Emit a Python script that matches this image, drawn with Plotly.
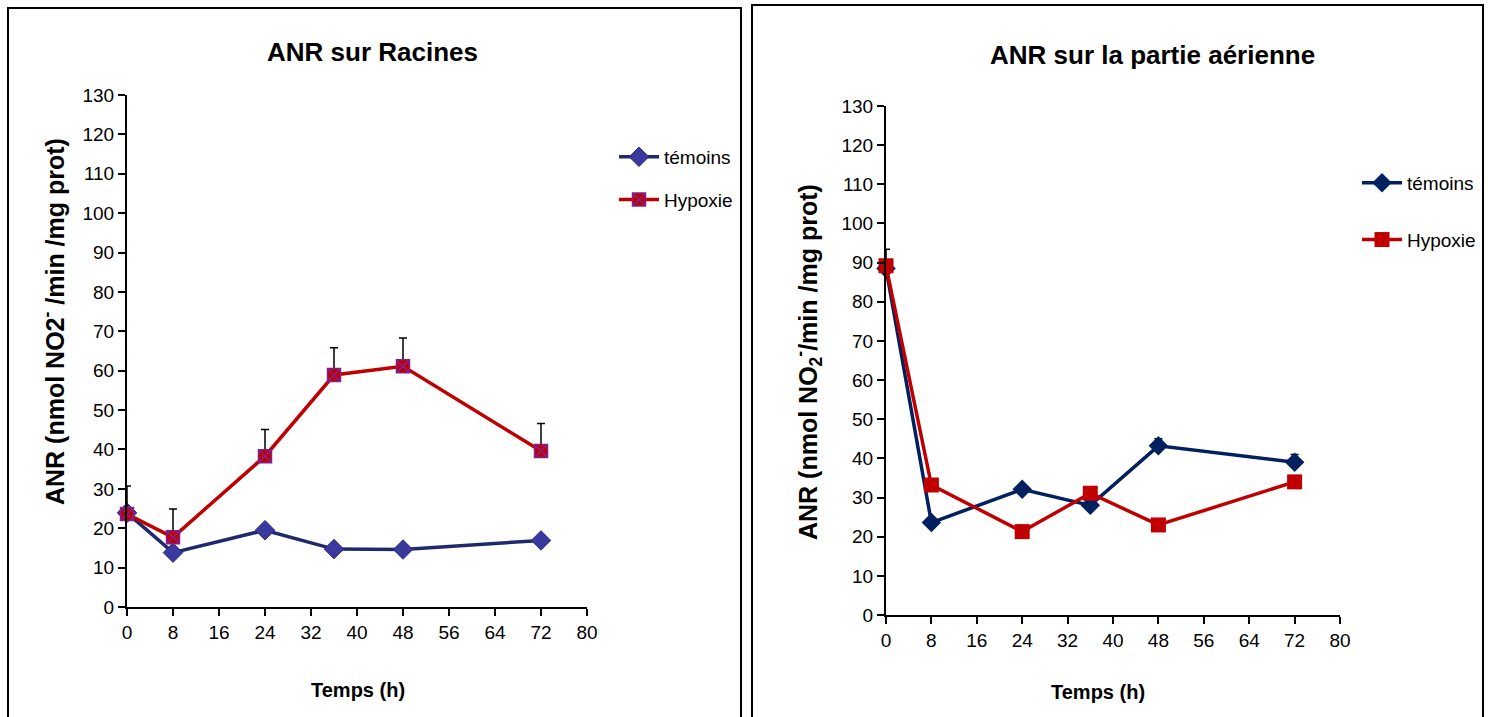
import plotly.graph_objects as go

# ---- data ----
time_h = [0, 8, 24, 36, 48, 72]

rac_temoins = [23.9, 13.8, 19.5, 14.7, 14.6, 16.9]
rac_temoins_err = [0.0, 0.0, 0.8, 0.0, 0.5, 0.5]
rac_hypoxie = [23.6, 17.7, 38.3, 58.9, 61.1, 39.6]
rac_hypoxie_err = [7.1, 7.2, 6.8, 6.9, 7.2, 7.0]

aer_temoins = [88.5, 23.6, 32.1, 28.0, 43.2, 39.0]
aer_temoins_err = [4.9, 0.5, 0.8, 0.5, 1.8, 2.0]
aer_hypoxie = [89.2, 33.2, 21.3, 31.1, 23.0, 34.0]
aer_hypoxie_err = [0.5, 0.5, 0.5, 0.5, 0.5, 0.5]

x_ticks = [0, 8, 16, 24, 32, 40, 48, 56, 64, 72, 80]
y_ticks = [0, 10, 20, 30, 40, 50, 60, 70, 80, 90, 100, 110, 120, 130]

series_names = ["témoins", "Hypoxie"]
titles = ["ANR sur Racines", "ANR sur la partie aérienne"]
y_titles = ["ANR (nmol NO2<sup>-</sup> /min /mg prot)",
            "ANR (nmol NO<sub>2</sub><sup>-</sup>/min /mg prot)"]
x_title = "Temps (h)"

W, H = 1488, 717
NARROW = "Liberation Sans Narrow, Arial Narrow, Liberation Sans, Arial, sans-serif"
SANS = "Liberation Sans, Arial, sans-serif"

def px_x(p):
    return p / W

def px_y(p):
    return 1 - p / H

fig = go.Figure()

def err(arr):
    return dict(type="data", symmetric=False, array=arr, arrayminus=[0] * len(arr),
                color="black", thickness=1.5, width=4)

# Left chart
fig.add_trace(go.Scatter(
    x=time_h, y=rac_temoins, name=series_names[0], xaxis="x", yaxis="y",
    mode="lines+markers", line=dict(color="#1F2A6E", width=3.5),
    marker=dict(symbol="diamond", size=15, color="#3A3A9E", line=dict(color="#2A2A80", width=1)),
    error_y=err(rac_temoins_err), legend="legend", legendgroup="a", cliponaxis=False))
fig.add_trace(go.Scatter(
    x=time_h, y=rac_hypoxie, name=series_names[1], xaxis="x", yaxis="y",
    mode="lines+markers", line=dict(color="#C00000", width=3.5),
    marker=dict(symbol="square-x", size=13, color="#C00000", line=dict(color="#7F2090", width=1.5)),
    error_y=err(rac_hypoxie_err), legend="legend", legendgroup="b", cliponaxis=False))

# Right chart
fig.add_trace(go.Scatter(
    x=time_h, y=aer_temoins, name=series_names[0], xaxis="x2", yaxis="y2",
    mode="lines+markers", line=dict(color="#002060", width=3.5),
    marker=dict(symbol="diamond", size=15, color="#002060"),
    error_y=err(aer_temoins_err), legend="legend2", legendgroup="c", cliponaxis=False))
fig.add_trace(go.Scatter(
    x=time_h, y=aer_hypoxie, name=series_names[1], xaxis="x2", yaxis="y2",
    mode="lines+markers", line=dict(color="#C00000", width=3.5),
    marker=dict(symbol="square", size=15, color="#C00000"),
    error_y=err(aer_hypoxie_err), legend="legend2", legendgroup="d", cliponaxis=False))

xaxis_common = dict(range=[0, 80], tickvals=x_ticks, ticks="outside", ticklen=7, tickwidth=1.5,
                    tickcolor="black", showline=True, linecolor="black", linewidth=2,
                    showgrid=False, zeroline=False, automargin=False,
                    tickfont=dict(family=NARROW, size=19, color="black"))
yaxis_common = dict(range=[0, 130], tickvals=y_ticks, ticks="outside", ticklen=7, tickwidth=1.5,
                    tickcolor="black", showline=True, linecolor="black", linewidth=2,
                    showgrid=False, zeroline=False, automargin=False,
                    tickfont=dict(family=NARROW, size=19, color="black"))

fig.update_layout(
    width=W, height=H, margin=dict(l=0, r=0, t=0, b=0, pad=0, autoexpand=False),
    paper_bgcolor="white", plot_bgcolor="white",
    xaxis=dict(domain=[px_x(127), px_x(587)], anchor="y", **xaxis_common),
    yaxis=dict(domain=[px_y(607), px_y(95)], anchor="x", **yaxis_common),
    xaxis2=dict(domain=[px_x(886), px_x(1340)], anchor="y2", **xaxis_common),
    yaxis2=dict(domain=[px_y(615), px_y(106)], anchor="x2", **yaxis_common),
    legend=dict(x=px_x(614), y=px_y(138), xanchor="left", yanchor="top",
                font=dict(family=NARROW, size=19, color="black"),
                bgcolor="rgba(0,0,0,0)", itemwidth=40, tracegroupgap=15,
                traceorder="grouped"),
    legend2=dict(x=px_x(1357), y=px_y(164), xanchor="left", yanchor="top",
                 font=dict(family=NARROW, size=19, color="black"),
                 bgcolor="rgba(0,0,0,0)", itemwidth=40, tracegroupgap=29,
                 traceorder="grouped"),
    showlegend=True,
)

# Panel frames
fig.add_shape(type="rect", xref="paper", yref="paper",
              x0=px_x(8), x1=px_x(741), y0=-0.05, y1=px_y(8),
              line=dict(color="black", width=2), fillcolor="rgba(0,0,0,0)", layer="below")
fig.add_shape(type="rect", xref="paper", yref="paper",
              x0=px_x(752), x1=px_x(1483), y0=-0.05, y1=px_y(5),
              line=dict(color="black", width=2), fillcolor="rgba(0,0,0,0)", layer="below")

anns = [
    dict(text="<b>" + titles[0] + "</b>", x=px_x(372), y=px_y(52), font=dict(family=NARROW, size=26)),
    dict(text="<b>" + titles[1] + "</b>", x=px_x(1152), y=px_y(55), font=dict(family=NARROW, size=26)),
    dict(text="<b>" + x_title + "</b>", x=px_x(358), y=px_y(690), font=dict(family=NARROW, size=20)),
    dict(text="<b>" + x_title + "</b>", x=px_x(1098), y=px_y(692), font=dict(family=NARROW, size=20)),
    dict(text="<b>" + y_titles[0] + "</b>", x=px_x(53), y=px_y(322), textangle=-90,
         font=dict(family=SANS, size=25)),
    dict(text="<b>" + y_titles[1] + "</b>", x=px_x(808), y=px_y(362), textangle=-90,
         font=dict(family=SANS, size=25)),
]
for a in anns:
    a.update(xref="paper", yref="paper", showarrow=False, xanchor="center", yanchor="middle")
    a["font"]["color"] = "black"
    fig.add_annotation(**a)

fig.write_html("out.html", config={"displayModeBar": False},
               post_script="document.body.style.margin='0';document.body.style.overflow='hidden';")
